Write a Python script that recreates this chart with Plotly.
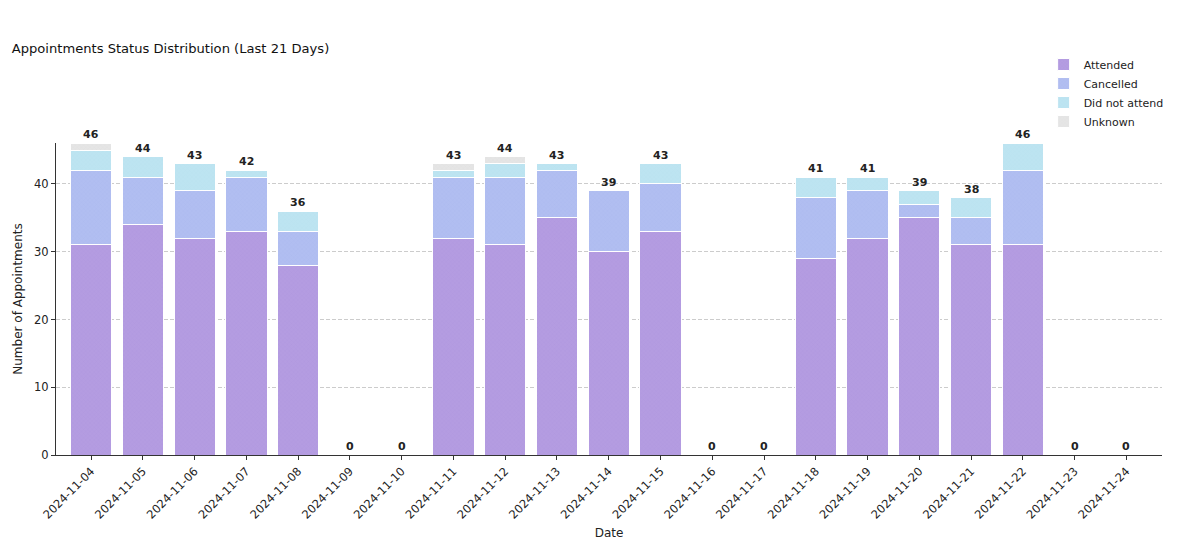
import plotly.graph_objects as go

dates = ["2024-11-04", "2024-11-05", "2024-11-06", "2024-11-07", "2024-11-08",
         "2024-11-09", "2024-11-10", "2024-11-11", "2024-11-12", "2024-11-13",
         "2024-11-14", "2024-11-15", "2024-11-16", "2024-11-17", "2024-11-18",
         "2024-11-19", "2024-11-20", "2024-11-21", "2024-11-22", "2024-11-23",
         "2024-11-24"]
attended =       [31, 34, 32, 33, 28, 0, 0, 32, 31, 35, 30, 33, 0, 0, 29, 32, 35, 31, 31, 0, 0]
cancelled =      [11, 7, 7, 8, 5, 0, 0, 9, 10, 7, 9, 7, 0, 0, 9, 7, 2, 4, 11, 0, 0]
did_not_attend = [3, 3, 4, 1, 3, 0, 0, 1, 2, 1, 0, 3, 0, 0, 3, 2, 2, 3, 4, 0, 0]
unknown =        [1, 0, 0, 0, 0, 0, 0, 1, 1, 0, 0, 0, 0, 0, 0, 0, 0, 0, 0, 0, 0]

series = [
    ("Attended", attended, "#b49ce1", "#a68bd9"),
    ("Cancelled", cancelled, "#b1bef1", "#a3b1ea"),
    ("Did not attend", did_not_attend, "#bde4f1", "#b1dced"),
    ("Unknown", unknown, "#e5e5e5", "#d8d8d8"),
]

totals = [a + c + d + u for a, c, d, u in zip(attended, cancelled, did_not_attend, unknown)]

fig = go.Figure()
for name, vals, col, fg in series:
    fig.add_trace(go.Bar(
        x=dates, y=vals, name=name,
        marker=dict(color=col, line=dict(color="white", width=1),
                    pattern=dict(shape="x", size=3, solidity=0.15, fgcolor=fg, fillmode="overlay")),
        width=0.8,
        hoverinfo="x+y+name",
    ))

for d, t in zip(dates, totals):
    fig.add_annotation(
        x=d, y=t, text=str(t), showarrow=False, yanchor="bottom", yshift=0,
        font=dict(family="DejaVu Sans", size=11, color="#222222", weight="bold"),
    )

fig.update_layout(
    barmode="stack",
    width=1178, height=550,
    margin=dict(l=56, r=16, t=143, b=95, autoexpand=False),
    paper_bgcolor="white", plot_bgcolor="white",
    font=dict(family="DejaVu Sans", size=11.5, color="#222222"),
    title=dict(text="Appointments Status Distribution (Last 21 Days)",
               x=0.01, xanchor="left", y=0.912, yanchor="middle",
               font=dict(size=13.1, color="#111111")),
    legend=dict(x=1.006, xanchor="right", y=1.298, yanchor="top",
                bgcolor="rgba(255,255,255,0)", font=dict(size=11),
                traceorder="normal", itemwidth=30, tracegroupgap=0),
    bargap=0.2,
)

fig.update_xaxes(
    type="category", range=[-0.68, 20.69], automargin=False,
    tickangle=-45, ticks="outside", ticklen=4, tickcolor="#333333",
    showline=True, linecolor="#333333", linewidth=1,
    showgrid=False,
    title=dict(text="Date", font=dict(size=12), standoff=8),
    tickfont=dict(size=11.5),
)
fig.update_yaxes(
    range=[0, 46.05], dtick=10, ticks="outside", ticklen=4, tickcolor="#333333",
    showline=True, linecolor="#333333", linewidth=1, automargin=False,
    showgrid=True, gridcolor="#cccccc", griddash="4px,2px", gridwidth=1,
    zeroline=False,
    title=dict(text="Number of Appointments", font=dict(size=12), standoff=8),
    tickfont=dict(size=11.5),
)

fig.write_html("out.html")
